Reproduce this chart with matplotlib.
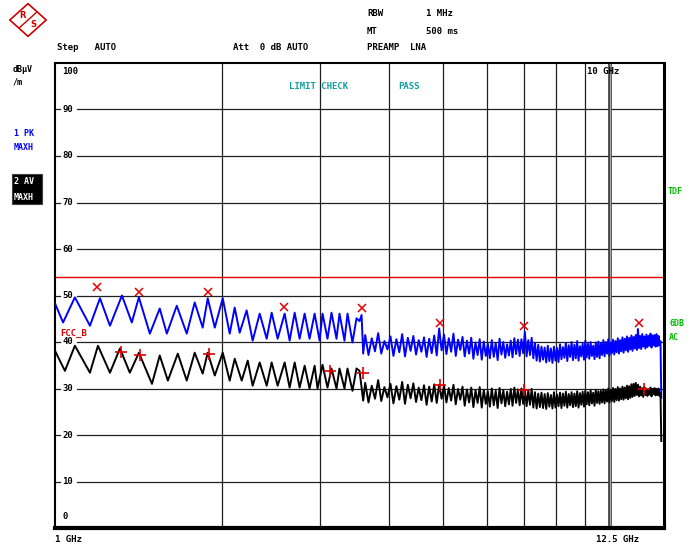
import numpy as np
import matplotlib
matplotlib.use("Agg")
import matplotlib.pyplot as plt
import matplotlib.patches as patches
import matplotlib.transforms as mtransforms

# --- data (GHz, dBuV/m) ---
# clean ripple part below ~3.6 GHz
PK_F = [1.000, 1.034, 1.086, 1.156, 1.205, 1.256, 1.320, 1.375, 1.416, 1.482,
        1.544, 1.590, 1.657, 1.727, 1.785, 1.845, 1.884, 1.940, 2.005, 2.064,
        2.107, 2.151, 2.214, 2.270, 2.337, 2.406, 2.456, 2.518, 2.592, 2.646,
        2.702, 2.758, 2.816, 2.874, 2.935, 2.996, 3.033, 3.096, 3.148, 3.214,
        3.254, 3.322, 3.364, 3.434, 3.492, 3.536, 3.566, 3.590]
PK_LOW = [48.3, 44.2, 49.6, 43.5, 49.4, 43.5, 50.0, 44.2, 49.6, 41.8,
          47.2, 41.8, 47.8, 41.8, 48.5, 43.1, 49.4, 43.1, 49.4, 41.8,
          47.4, 42.0, 46.8, 40.3, 46.1, 40.7, 46.3, 40.7, 46.1, 40.3,
          46.3, 40.7, 46.1, 40.7, 46.1, 40.3, 46.1, 40.7, 46.3, 40.7,
          46.1, 40.3, 46.1, 39.9, 45.1, 44.5, 45.8, 37.5]

AV_F = [1.000, 1.042, 1.086, 1.156, 1.195, 1.256, 1.309, 1.364, 1.416, 1.495,
        1.544, 1.597, 1.664, 1.727, 1.785, 1.845, 1.884, 1.940, 2.005, 2.064,
        2.107, 2.169, 2.224, 2.270, 2.337, 2.406, 2.456, 2.518, 2.592, 2.646,
        2.702, 2.758, 2.816, 2.874, 2.935, 2.971, 3.033, 3.096, 3.148, 3.214,
        3.254, 3.322, 3.364, 3.434, 3.492, 3.536, 3.590]
AV_LOW = [38.1, 33.8, 39.2, 33.4, 39.2, 33.4, 38.6, 33.4, 37.7, 31.0,
          37.1, 31.7, 37.5, 31.7, 37.7, 33.2, 37.7, 32.8, 37.7, 31.7,
          36.4, 31.7, 36.0, 30.6, 35.6, 30.6, 35.6, 30.6, 35.6, 30.2,
          35.6, 30.2, 34.9, 30.0, 34.9, 30.0, 35.1, 30.2, 34.3, 30.0,
          34.3, 30.0, 34.3, 29.5, 34.3, 33.8, 27.4]

# noisy part 3.62 .. 12.27 GHz, one sample every 50 MHz
HI_F = np.linspace(3.62, 12.27, 174)
PK_HIGH = [
    41.5, 37.2, 40.8, 38.0, 41.9, 37.5, 40.2, 38.4, 41.2, 37.0,
    40.6, 37.8, 41.7, 36.9, 40.9, 38.1, 41.3, 37.3, 40.4, 37.9,
    41.0, 36.8, 40.7, 37.6, 41.4, 37.1, 42.9, 38.2, 41.6, 37.4,
    40.8, 37.9, 41.8, 37.0, 40.5, 38.3, 41.1, 36.9, 40.3, 37.5,
    40.9, 36.4, 39.9, 37.2, 40.6, 36.2, 40.1, 37.0, 39.6, 36.5,
    40.4, 36.8, 39.8, 36.1, 40.7, 37.3, 40.0, 36.6, 39.5, 37.1,
    40.3, 36.7, 40.8, 37.4, 40.5, 37.0, 40.6, 37.6, 42.2, 36.9,
    40.4, 37.2, 40.9, 36.5, 39.8, 36.0, 39.4, 35.8, 39.0, 36.2,
    38.8, 35.6, 39.2, 35.9, 38.6, 35.5, 39.0, 36.0, 38.7, 35.7,
    39.5, 36.3, 38.9, 36.6, 39.8, 35.9, 39.3, 36.8, 40.0, 36.1,
    39.4, 36.5, 40.2, 36.0, 39.1, 36.9, 39.7, 36.2, 40.3, 36.7,
    39.6, 36.4, 40.0, 37.0, 39.2, 36.3, 39.9, 36.8, 40.1, 36.5,
    39.8, 37.2, 40.4, 36.9, 40.0, 37.5, 40.6, 37.1, 39.9, 37.6,
    40.5, 37.3, 40.2, 37.8, 40.8, 37.5, 40.4, 38.0, 41.0, 37.7,
    40.7, 38.2, 41.2, 37.9, 40.9, 38.4, 41.4, 38.1, 41.1, 38.6,
    41.5, 38.3, 42.8, 38.7, 41.3, 38.5, 41.7, 39.0, 41.2, 38.6,
    41.6, 38.9, 41.3, 39.2, 41.8, 38.8, 41.4, 39.3, 41.5, 39.0,
    41.7, 39.1, 41.3, 39.4]
AV_HIGH = [
    31.2, 27.0, 30.6, 27.8, 31.8, 27.3, 30.3, 28.1, 31.0, 26.8,
    30.5, 27.6, 31.4, 26.7, 30.8, 27.9, 31.1, 27.1, 30.2, 27.5,
    30.7, 26.5, 30.4, 27.2, 30.9, 26.9, 30.8, 27.8, 30.6, 27.0,
    30.1, 27.4, 30.8, 26.6, 29.9, 27.6, 30.4, 26.3, 29.8, 27.0,
    30.2, 26.0, 29.6, 26.9, 30.3, 25.9, 29.7, 26.7, 29.4, 26.1,
    30.0, 26.4, 29.5, 25.8, 30.1, 26.8, 29.6, 26.2, 29.3, 26.6,
    29.9, 26.3, 30.2, 26.9, 29.8, 26.4, 30.0, 26.7, 29.7, 26.2,
    29.6, 26.5, 29.9, 25.9, 29.2, 25.7, 28.9, 26.0, 29.1, 25.8,
    28.8, 25.6, 29.0, 26.1, 28.6, 25.7, 29.2, 25.9, 28.7, 26.2,
    29.1, 25.8, 28.9, 26.3, 29.3, 25.9, 28.8, 26.4, 29.2, 26.0,
    28.9, 26.2, 29.4, 25.9, 29.0, 26.5, 29.3, 26.1, 29.5, 26.6,
    29.2, 26.4, 29.6, 26.8, 29.1, 26.3, 29.7, 26.9, 29.4, 26.7,
    29.5, 27.0, 29.8, 26.8, 29.6, 27.2, 30.0, 27.0, 29.7, 27.3,
    30.1, 27.1, 29.9, 27.5, 30.3, 27.4, 30.0, 27.7, 30.4, 27.6,
    30.2, 27.9, 30.6, 27.7, 30.5, 28.0, 30.9, 28.2, 31.0, 28.4,
    31.2, 28.6, 30.8, 28.3, 30.4, 28.5, 30.1, 28.2, 30.3, 28.6,
    30.0, 28.4, 29.8, 28.7, 30.2, 28.3, 29.9, 28.8, 30.1, 28.5,
    29.9, 28.6, 30.0, 28.4]

# end of sweep drop
TAIL_F = [12.32, 12.36]
PK_TAIL = [40.2, 28.0]
AV_TAIL = [29.0, 18.7]

# marker peaks
PK_MARK_F = [1.190, 1.416, 1.884, 2.581, 3.566, 4.945, 7.00, 11.27]
PK_MARK_DB = [50.6, 49.6, 49.6, 46.3, 46.1, 42.9, 42.2, 42.9]
AV_MARK_F = [1.314, 1.422, 1.892, 3.123, 3.580, 4.945, 7.00, 11.51]
AV_MARK_DB = [37.9, 37.1, 37.5, 33.8, 33.4, 30.8, 29.7, 30.0]

LIMIT = 54.0
Y_TICKS = [100, 90, 80, 70, 60, 50, 40, 30, 20, 10, 0]
X_GRID = [2, 3, 4, 5, 6, 7, 8, 9, 10]

W, H = 690, 546
FONT = dict(family="DejaVu Sans Mono", fontweight="bold", fontsize=6.5)

fig = plt.figure(figsize=(W / 100, H / 100), dpi=100)
fig.patch.set_facecolor("white")


def ftext(x, y, s, **kw):
    # header text in screen pixels
    opts = dict(FONT)
    opts.update(kw)
    fig.text(x / W, 1 - y / H, s, va="center", ha="left", **opts)


ax = fig.add_axes([55 / W, 18 / H, 609 / W, 465 / H])
ax.set_xscale("log")
ax.set_xlim(1, 12.5)
ax.set_ylim(0, 100)
ax.set_xticks([])
ax.set_yticks([])
ax.minorticks_off()
for side, lw in (("top", 1.5), ("left", 1.5), ("bottom", 3.0), ("right", 2.2)):
    ax.spines[side].set_linewidth(lw)
    ax.spines[side].set_color("black")

# grid
lbl_tr = mtransforms.blended_transform_factory(ax.transAxes, ax.transData)
for v in Y_TICKS:
    if v in (0, 100):
        ypos = 2.4 if v == 0 else 98.1
        ax.text(0.012, ypos, str(v), transform=lbl_tr, va="center", ha="left", **FONT)
        continue
    ax.axhline(v, xmin=0.036, xmax=1, color="#202020", lw=0.9, zorder=1)
    ax.axhline(v, xmin=0, xmax=0.008, color="#202020", lw=0.9, zorder=1)
    ax.text(0.012, v, str(v), transform=lbl_tr, va="center", ha="left", **FONT)
for f in X_GRID:
    ax.axvline(f, color="#202020", lw=0.9, zorder=1)
# frequency line at 10 GHz
ax.axvline(10.0, color="#303030", lw=2.6, zorder=1)
ax.axvline(10.0, color="#a8a8a8", lw=1.0, zorder=1)

# limit line
ax.axhline(LIMIT, color="#e00000", lw=1.0, zorder=2)

# traces
pk_f = list(PK_F) + list(HI_F) + TAIL_F
pk_v = list(PK_LOW) + list(PK_HIGH) + PK_TAIL
av_f = list(AV_F) + list(HI_F) + TAIL_F
av_v = list(AV_LOW) + list(AV_HIGH) + AV_TAIL
ax.plot(pk_f, pk_v, color="#0000ff", lw=1.4, zorder=3)
ax.plot(av_f, av_v, color="black", lw=1.4, zorder=3)

ax.plot(PK_MARK_F, np.array(PK_MARK_DB) + 1.2, ls="none", marker="x",
        color="#e00000", ms=6, mew=1.1, zorder=4)
ax.plot(AV_MARK_F, AV_MARK_DB, ls="none", marker="+",
        color="#e00000", ms=9, mew=1.2, zorder=4)

# in-plot annotations
ax.text(1.02, 41.8, "FCC_B", color="#e00000", va="center", ha="left", **FONT)
ax.text(9.1, 98.1, "10 GHz", va="center", ha="left", **FONT)
ax.text(2.636, 95.0, "LIMIT CHECK", color="#10a0a0", va="center", ha="left", **FONT)
ax.text(4.15, 95.0, "PASS", color="#10a0a0", va="center", ha="left", **FONT)

# header
ftext(367, 14, "RBW")
ftext(426, 14, "1 MHz")
ftext(367, 32, "MT")
ftext(426, 32, "500 ms")
ftext(57, 48, "Step   AUTO")
ftext(233, 48, "Att  0 dB AUTO")
ftext(367, 48, "PREAMP  LNA")

# left side labels
ftext(13, 69, "dBµV", fontsize=6)
ftext(13, 82, "/m", fontsize=6)
ftext(14, 134, "1 PK", color="#0000ff", fontsize=6)
ftext(14, 148, "MAXH", color="#0000ff", fontsize=6)
fig.patches.append(patches.Rectangle((12 / W, 1 - 204 / H), 30 / W, 30 / H,
                                     transform=fig.transFigure, facecolor="black",
                                     edgecolor="#404040", lw=0.8))
ftext(14, 182, "2 AV", color="white", fontsize=6)
ftext(14, 197, "MAXH", color="white", fontsize=6)

# right side labels
ftext(668, 191, "TDF", color="#00c000", fontsize=6)
ftext(669, 324, "6DB", color="#00c000", fontsize=6)
ftext(669, 338, "AC", color="#00c000", fontsize=6)

# bottom labels
ftext(55, 539, "1 GHz")
ftext(596, 539, "12.5 GHz")

# R&S logo
lax = fig.add_axes([8 / W, 1 - 38 / H, 40 / W, 36 / H])
lax.set_xlim(-1.1, 1.1)
lax.set_ylim(-1.1, 1.1)
lax.axis("off")
lax.add_patch(patches.Polygon([[0, 1], [1, 0], [0, -1], [-1, 0]], closed=True,
                              fill=False, edgecolor="#d00000", lw=1.2))
lax.plot([0.45, -0.45], [0.45, -0.45], color="#d00000", lw=1.0)
lax.text(-0.3, 0.3, "R", color="#d00000", fontsize=6, fontweight="bold",
         ha="center", va="center")
lax.text(0.3, -0.3, "S", color="#d00000", fontsize=6, fontweight="bold",
         ha="center", va="center")

fig.savefig("out.png", dpi=100)
